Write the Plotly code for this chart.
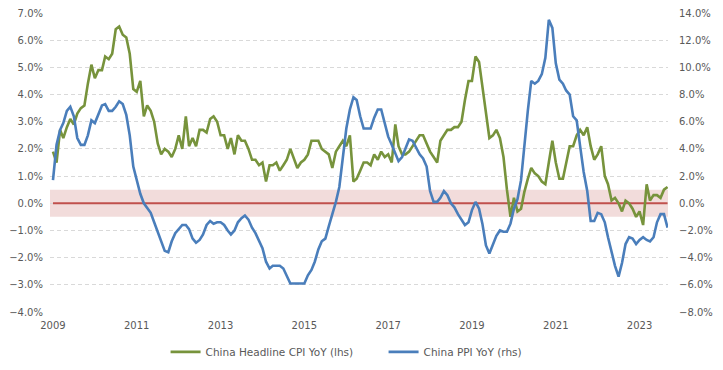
import pandas as pd
import plotly.graph_objects as go

# Monthly observations, Dec 2009 .. Aug 2024
dates = pd.date_range("2009-12-01", periods=177, freq="MS")

cpi_yoy = [
    1.9,
    1.5, 2.7, 2.4, 2.8, 3.1, 2.9, 3.3, 3.5, 3.6, 4.4, 5.1, 4.6,
    4.9, 4.9, 5.4, 5.3, 5.5, 6.4, 6.5, 6.2, 6.1, 5.5, 4.2, 4.1,
    4.5, 3.2, 3.6, 3.4, 3.0, 2.2, 1.8, 2.0, 1.9, 1.7, 2.0, 2.5,
    2.0, 3.2, 2.1, 2.4, 2.1, 2.7, 2.7, 2.6, 3.1, 3.2, 3.0, 2.5,
    2.5, 2.0, 2.4, 1.8, 2.5, 2.3, 2.3, 2.0, 1.6, 1.6, 1.4, 1.5,
    0.8, 1.4, 1.4, 1.5, 1.2, 1.4, 1.6, 2.0, 1.6, 1.3, 1.5, 1.6,
    1.8, 2.3, 2.3, 2.3, 2.0, 1.9, 1.8, 1.3, 1.9, 2.1, 2.3, 2.1,
    2.5, 0.8, 0.9, 1.2, 1.5, 1.5, 1.4, 1.8, 1.6, 1.9, 1.7, 1.8,
    1.5, 2.9, 2.1, 1.8, 1.8, 1.9, 2.1, 2.3, 2.5, 2.5, 2.2, 1.9,
    1.7, 1.5, 2.3, 2.5, 2.7, 2.7, 2.8, 2.8, 3.0, 3.8, 4.5, 4.5,
    5.4, 5.2, 4.3, 3.3, 2.4, 2.5, 2.7, 2.4, 1.7, 0.5, -0.5, 0.2,
    -0.3, -0.2, 0.4, 0.9, 1.3, 1.1, 1.0, 0.8, 0.7, 1.5, 2.3, 1.5,
    0.9, 0.9, 1.5, 2.1, 2.1, 2.5, 2.7, 2.5, 2.8, 2.1, 1.6, 1.8,
    2.1, 1.0, 0.7, 0.1, 0.2, 0.0, -0.3, 0.1, 0.0, -0.2, -0.5, -0.3,
    -0.8, 0.7, 0.1, 0.3, 0.3, 0.2, 0.5, 0.6,
]

ppi_yoy = [
    1.7,
    4.3, 5.4, 5.9, 6.8, 7.1, 6.4, 4.8, 4.3, 4.3, 5.0, 6.1, 5.9,
    6.6, 7.2, 7.3, 6.8, 6.8, 7.1, 7.5, 7.3, 6.5, 5.0, 2.7, 1.7,
    0.7, 0.0, -0.3, -0.7, -1.4, -2.1, -2.9, -3.5, -3.6, -2.8, -2.2, -1.9,
    -1.6, -1.6, -1.9, -2.6, -2.9, -2.7, -2.3, -1.6, -1.3, -1.5, -1.4, -1.4,
    -1.6, -2.0, -2.3, -2.0, -1.4, -1.1, -0.9, -1.2, -1.8, -2.2, -2.7, -3.3,
    -4.3, -4.8, -4.6, -4.6, -4.6, -4.8, -5.4, -5.9, -5.9, -5.9, -5.9, -5.9,
    -5.3, -4.9, -4.3, -3.4, -2.8, -2.6, -1.7, -0.8, 0.1, 1.2, 3.3, 5.5,
    6.9, 7.8, 7.6, 6.4, 5.5, 5.5, 5.5, 6.3, 6.9, 6.9, 5.8, 4.9,
    4.3, 3.7, 3.1, 3.4, 4.1, 4.7, 4.6, 4.1, 3.6, 3.3, 2.7, 0.9,
    0.1, 0.1, 0.4, 0.9, 0.6, 0.0, -0.3, -0.8, -1.2, -1.6, -1.4, -0.5,
    0.1, -0.4, -1.5, -3.1, -3.7, -3.0, -2.4, -2.0, -2.1, -2.1, -1.5, -0.4,
    0.3, 1.7, 4.4, 6.8, 9.0, 8.8, 9.0, 9.5, 10.7, 13.5, 12.9, 10.3,
    9.1, 8.8, 8.3, 8.0, 6.4, 6.1, 4.2, 2.3, 0.9, -1.3, -1.3, -0.7,
    -0.8, -1.4, -2.5, -3.6, -4.6, -5.4, -4.4, -3.0, -2.5, -2.6, -3.0, -2.7,
    -2.5, -2.7, -2.8, -2.5, -1.4, -0.8, -0.8, -1.8,
]

tick_dates = ["2009-12-01", "2011-12-01", "2013-12-01", "2015-12-01",
              "2017-12-01", "2019-12-01", "2021-12-01", "2023-12-01"]
tick_labels = ["2009", "2011", "2013", "2015", "2017", "2019", "2021", "2023"]

band_low, band_high = -0.5, 0.5
ref_level = 0.0

GREEN = "#77933c"
BLUE = "#4a7ebb"
RED = "#c0504d"
TXT = "#595959"
FONT = "DejaVu Sans"

fig = go.Figure()
# zero reference line, drawn first so the series sit on top of it
fig.add_trace(go.Scatter(x=[dates[0], dates[-1]], y=[ref_level, ref_level],
                         mode="lines", line=dict(color=RED, width=1.8),
                         showlegend=False, hoverinfo="skip"))
fig.add_trace(go.Scatter(x=dates, y=cpi_yoy, mode="lines",
                         name="China Headline CPI YoY (lhs)",
                         line=dict(color=GREEN, width=2.6)))
fig.add_trace(go.Scatter(x=dates, y=ppi_yoy, mode="lines",
                         name="China PPI YoY (rhs)", yaxis="y2",
                         line=dict(color=BLUE, width=2.6)))

fig.add_shape(type="rect", xref="paper", yref="y", x0=0, x1=1,
              y0=band_low, y1=band_high, fillcolor="#f2dcdb",
              line=dict(width=0), layer="below")

fig.update_layout(
    width=723, height=370,
    margin=dict(l=50, r=55, t=13, b=58, autoexpand=False),
    plot_bgcolor="white", paper_bgcolor="white",
    font=dict(family=FONT, size=10, color=TXT),
    showlegend=True,
    legend=dict(orientation="h", xref="container", yref="container",
                x=0.229, xanchor="left", y=0.049, yanchor="middle",
                font=dict(family=FONT, size=10.5, color=TXT),
                itemwidth=30, entrywidth=173, entrywidthmode="pixels",
                bgcolor="rgba(0,0,0,0)"),
    xaxis=dict(range=["2009-11-05", "2024-08-05"],
               tickmode="array", tickvals=tick_dates, ticktext=tick_labels,
               showgrid=False, zeroline=False, showline=False,
               ticks="", ticklabelstandoff=6,
               tickfont=dict(family=FONT, size=10, color=TXT)),
    yaxis=dict(range=[-4, 7], dtick=1, tickformat=".1f", ticksuffix="%",
               showgrid=True, gridcolor="#d9d9d9", gridwidth=1,
               griddash="4px,3px", zeroline=False, showline=False,
               ticks="", ticklabelstandoff=6,
               tickfont=dict(family=FONT, size=10, color=TXT)),
    yaxis2=dict(range=[-8, 14], dtick=2, tickformat=".1f", ticksuffix="%",
                overlaying="y", side="right", showgrid=False,
                zeroline=False, showline=False, ticks="",
                ticklabelstandoff=10,
                tickfont=dict(family=FONT, size=10, color=TXT)),
)

fig.write_html("out.html",
               config={"displayModeBar": False},
               post_script="document.body.style.margin='0';")
